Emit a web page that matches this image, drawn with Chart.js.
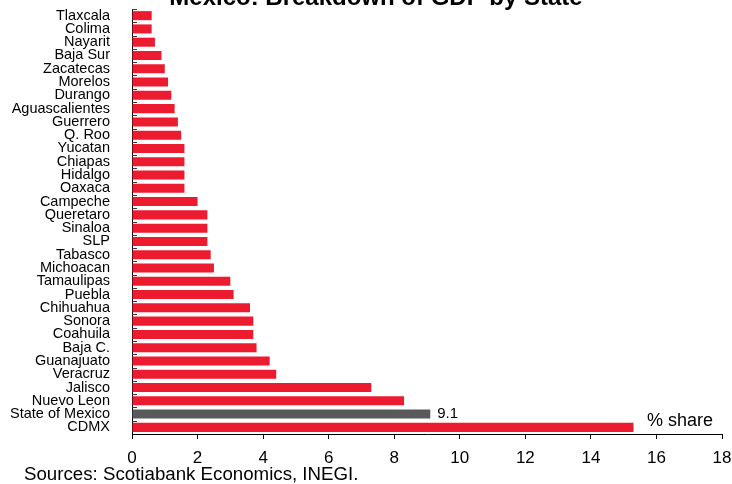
<!DOCTYPE html>
<html lang="en">
<head>
    <meta charset="UTF-8">
    <title>Mexico: Breakdown of GDP by State</title>
    <script src="https://cdn.jsdelivr.net/npm/chart.js"></script>
    <style>
        body { margin: 0; background: #fff; }
        #wrap { width: 732px; height: 484px; position: relative; }
    </style>
</head>
<body>
    <div id="wrap"><canvas id="gdpChart"></canvas></div>

    <script>
        var states = ['Tlaxcala', 'Colima', 'Nayarit', 'Baja Sur', 'Zacatecas', 'Morelos', 'Durango',
            'Aguascalientes', 'Guerrero', 'Q. Roo', 'Yucatan', 'Chiapas', 'Hidalgo', 'Oaxaca',
            'Campeche', 'Queretaro', 'Sinaloa', 'SLP', 'Tabasco', 'Michoacan', 'Tamaulipas',
            'Puebla', 'Chihuahua', 'Sonora', 'Coahuila', 'Baja C.', 'Guanajuato', 'Veracruz',
            'Jalisco', 'Nuevo Leon', 'State of Mexico', 'CDMX'];
        var gdpShare = [0.6, 0.6, 0.7, 0.9, 1.0, 1.1, 1.2, 1.3, 1.4, 1.5, 1.6, 1.6, 1.6, 1.6,
            2.0, 2.3, 2.3, 2.3, 2.4, 2.5, 3.0, 3.1, 3.6, 3.7, 3.7, 3.8, 4.2, 4.4,
            7.3, 8.3, 9.1, 15.3];
        var xTicks = [0, 2, 4, 6, 8, 10, 12, 14, 16, 18];
        var highlight = 'State of Mexico';

        var RED = '#ed1b2f';
        var GREY = '#595959';
        var FONT = '"Liberation Sans", Arial, sans-serif';

        // title, labels and notes drawn straight on the canvas
        var extras = {
            id: 'extras',
            afterDraw: function(chart) {
                var c = chart.ctx;
                var area = chart.chartArea;
                c.save();
                c.fillStyle = '#000';

                c.font = 'bold 24px ' + FONT;
                c.textAlign = 'center';
                c.textBaseline = 'alphabetic';
                c.fillText('Mexico: Breakdown of GDP by State', 376, 4.5);

                c.textAlign = 'left';
                c.font = '18px ' + FONT;
                c.fillText('% share', 647, 426);
                c.font = '18.7px ' + FONT;
                c.fillText('Sources: Scotiabank Economics, INEGI.', 24, 480);

                // value label on the highlighted bar
                var i = states.indexOf(highlight);
                var bar = chart.getDatasetMeta(0).data[i];
                c.font = '15px ' + FONT;
                c.textBaseline = 'middle';
                c.fillText(gdpShare[i].toFixed(1), bar.x + 7, bar.y);

                // small inward ticks between categories
                var band = (area.bottom - area.top) / states.length;
                c.strokeStyle = '#333';
                c.lineWidth = 1;
                c.beginPath();
                for (var k = 0; k < states.length; k++) {
                    var y = Math.round(area.top + k * band) + 0.5;
                    c.moveTo(area.left, y);
                    c.lineTo(area.left + 5, y);
                }
                c.stroke();
                c.restore();
            }
        };

        var ctx = document.getElementById('gdpChart').getContext('2d');
        var gdpChart = new Chart(ctx, {
            type: 'bar',
            data: {
                labels: states,
                datasets: [{
                    label: '% share',
                    data: gdpShare,
                    backgroundColor: states.map(function(s) { return s === highlight ? GREY : RED; }),
                    borderWidth: 0,
                    barPercentage: 0.68,
                    categoryPercentage: 1
                }]
            },
            options: {
                indexAxis: 'y',
                responsive: true,
                maintainAspectRatio: false,
                animation: false,
                layout: { padding: { top: 9, right: 10, left: 0, bottom: 0 } },
                plugins: {
                    legend: { display: false },
                    tooltip: { enabled: false },
                    title: { display: false }
                },
                scales: {
                    x: {
                        type: 'linear',
                        position: 'bottom',
                        min: 0,
                        max: 18,
                        afterBuildTicks: function(scale) {
                            scale.ticks = xTicks.map(function(v) { return { value: v }; });
                        },
                        afterFit: function(scale) {
                            scale.height = 50;
                            scale.paddingLeft = 0;
                            scale.paddingRight = 0;
                        },
                        grid: {
                            drawOnChartArea: false,
                            drawTicks: true,
                            tickLength: 5,
                            color: '#000'
                        },
                        border: { display: true, color: '#000', width: 1 },
                        ticks: {
                            color: '#000',
                            padding: 9,
                            font: { family: FONT, size: 17 }
                        }
                    },
                    y: {
                        afterFit: function(scale) {
                            scale.width = 132;
                            scale.paddingTop = 0;
                            scale.paddingBottom = 0;
                        },
                        grid: { display: false },
                        border: { display: true, color: '#000', width: 1 },
                        ticks: {
                            color: '#000',
                            autoSkip: false,
                            padding: 14,
                            font: { family: FONT, size: 14.5, lineHeight: 1 }
                        }
                    }
                }
            },
            plugins: [extras]
        });
    </script>
</body>
</html>
